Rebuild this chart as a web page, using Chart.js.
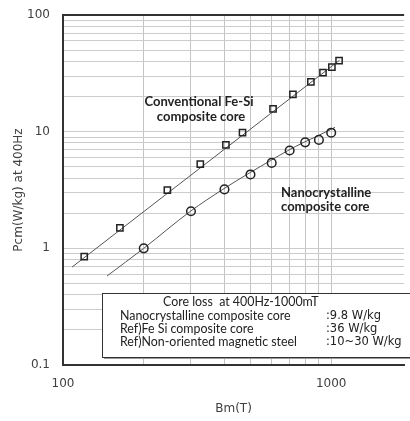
<!DOCTYPE html>
<html>
<head>
<meta charset="utf-8">
<script src="https://cdn.jsdelivr.net/npm/chart.js@4.4.1/dist/chart.umd.min.js"></script>
<style>
  html, body { margin: 0; padding: 0; background: #fff; }
</style>
</head>
<body>
<canvas id="lossChart" width="410" height="421"></canvas>
<script>
// Conventional Fe-Si composite core (squares)
const bmFeSi  = [120, 163, 245, 325, 405, 467, 607, 720, 840, 932, 1006, 1070];
const pcmFeSi = [0.85, 1.5, 3.16, 5.26, 7.7, 9.8, 15.7, 20.9, 26.7, 32.0, 35.8, 40.6];
// fitted line for Fe-Si
const bmFeSiFit  = [108, 1075];
const pcmFeSiFit = [0.69, 41];

// Nanocrystalline composite core (circles)
const bmNano  = [200, 300, 400, 500, 600, 700, 800, 900, 1000];
const pcmNano = [1.0, 2.08, 3.2, 4.3, 5.4, 6.9, 8.1, 8.5, 9.8];
// fitted curve for nanocrystalline
const bmNanoFit  = [146, 200, 298, 395, 495, 594, 688, 785, 894, 1034];
const pcmNanoFit = [0.58, 1.0, 2.07, 3.21, 4.42, 5.65, 6.87, 8.04, 9.24, 10.9];

// axis grid / labels
const xTicks = [100, 200, 300, 400, 500, 600, 700, 800, 900, 1000];
const xLabels = [100, 1000];
const yTicks = [0.1, 0.2, 0.3, 0.4, 0.5, 0.6, 0.7, 0.8, 0.9,
                1, 2, 3, 4, 5, 6, 7, 8, 9,
                10, 20, 30, 40, 50, 60, 70, 80, 90, 100];
const yLabels = [0.1, 1, 10, 100];

// text box contents
const noteTitle = 'Core loss  at 400Hz-1000mT';
const noteNames = ['Nanocrystalline composite core', 'Ref)Fe Si composite core', 'Ref)Non-oriented magnetic steel'];
const noteValues = [':9.8 W/kg', ':36 W/kg', ':10~30 W/kg'];

const toPts = (xs, ys) => xs.map((x, i) => ({x: x, y: ys[i]}));
const onlyLabels = list => (value) => list.some(v => Math.abs(v - value) < 1e-9) ? String(value) : '';

const overlay = {
  id: 'overlay',
  afterDatasetsDraw(chart) {
    const ctx = chart.ctx;
    const a = chart.chartArea;
    ctx.save();
    // top frame line
    ctx.strokeStyle = '#333';
    ctx.lineWidth = 2;
    ctx.beginPath();
    ctx.moveTo(a.left - 1, a.top);
    ctx.lineTo(a.right, a.top);
    ctx.stroke();

    // curve labels
    ctx.fillStyle = '#222';
    ctx.font = 'bold 13px Lato';
    ctx.textBaseline = 'middle';
    ctx.textAlign = 'center';
    ctx.fillText('Conventional Fe-Si', 199, 102);
    ctx.fillText('composite core', 201, 117);
    ctx.textAlign = 'left';
    ctx.fillText('Nanocrystalline', 281, 193);
    ctx.fillText('composite core', 281, 207);

    // summary box
    const bx = a.left + 39, by = 293, bw = 320, bh = 64;
    ctx.fillStyle = '#999';
    ctx.fillRect(bx + 2, by + 2, bw, bh);
    ctx.fillStyle = '#fff';
    ctx.fillRect(bx, by, bw, bh);
    ctx.strokeStyle = '#333';
    ctx.lineWidth = 1;
    ctx.strokeRect(bx + 0.5, by + 0.5, bw, bh);

    ctx.fillStyle = '#222';
    ctx.font = '12.4px Lato';
    ctx.fillText(noteTitle, 163, 302);
    noteNames.forEach((t, i) => ctx.fillText(t, 120, 316 + i * 13));
    ctx.font = '11.5px "DejaVu Sans"';
    noteValues.forEach((t, i) => ctx.fillText(t, 326, 316 + i * 13));
    ctx.restore();
  }
};

Chart.defaults.font.family = '"DejaVu Sans"';
Chart.defaults.font.size = 12;
Chart.defaults.color = '#404040';

const ctx = document.getElementById('lossChart').getContext('2d');
const lossChart = new Chart(ctx, {
  type: 'scatter',
  data: {
    datasets: [{
      label: 'Fe-Si',
      data: toPts(bmFeSi, pcmFeSi),
      pointStyle: 'rect',
      pointRadius: 4.4,
      borderWidth: 1.5,
      borderColor: '#222',
      backgroundColor: 'rgba(0,0,0,0)'
    }, {
      label: 'Nano',
      data: toPts(bmNano, pcmNano),
      pointStyle: 'circle',
      pointRadius: 4.3,
      borderWidth: 1.5,
      borderColor: '#222',
      backgroundColor: 'rgba(0,0,0,0)'
    }, {
      label: 'Fe-Si fit',
      data: toPts(bmFeSiFit, pcmFeSiFit),
      showLine: true,
      pointRadius: 0,
      borderWidth: 1,
      borderColor: '#555'
    }, {
      label: 'Nano fit',
      data: toPts(bmNanoFit, pcmNanoFit),
      showLine: true,
      pointRadius: 0,
      borderWidth: 1,
      borderColor: '#555',
      tension: 0.4,
      cubicInterpolationMode: 'monotone'
    }]
  },
  options: {
    responsive: false,
    animation: false,
    layout: { padding: { top: 15, left: 0, right: 0, bottom: 0 } },
    plugins: { legend: { display: false }, tooltip: { enabled: false } },
    scales: {
      x: {
        type: 'logarithmic',
        min: 100,
        max: 1870,
        afterBuildTicks: s => { s.ticks = xTicks.map(v => ({value: v})); },
        afterFit: s => { s.height = 56; },
        grid: { color: '#c4c4c4', drawTicks: true, tickLength: 12, tickColor: 'rgba(0,0,0,0)' },
        border: { color: '#333', width: 2 },
        ticks: { autoSkip: false, maxRotation: 0, padding: 0, callback: onlyLabels(xLabels) },
        title: { display: true, text: 'Bm(T)', padding: { top: 0, bottom: 5 } }
      },
      y: {
        type: 'logarithmic',
        min: 0.1,
        max: 100,
        afterBuildTicks: s => { s.ticks = yTicks.map(v => ({value: v})); },
        afterFit: s => { s.width = 63; },
        grid: { color: '#cccccc', drawTicks: true, tickLength: 13, tickColor: 'rgba(0,0,0,0)' },
        border: { color: '#333', width: 2 },
        ticks: { autoSkip: false, padding: 0, callback: onlyLabels(yLabels) },
        title: { display: true, text: 'Pcm(W/kg) at 400Hz', padding: { top: 12, bottom: 0 } }
      }
    }
  },
  plugins: [overlay]
});
</script>
</body>
</html>
